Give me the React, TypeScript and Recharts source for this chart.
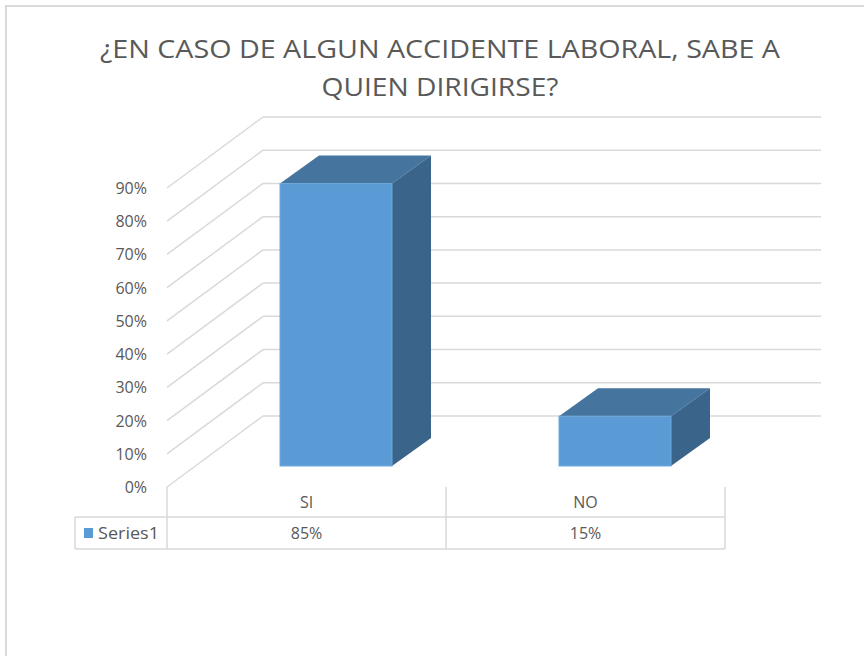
import React from 'react';
import { BarChart, Bar, XAxis, YAxis, CartesianGrid } from 'recharts';

const TITLE_LINES = ['¿EN CASO DE ALGUN ACCIDENTE LABORAL, SABE A', 'QUIEN DIRIGIRSE?'];
const categories = ['SI', 'NO'];
const series1 = [0.85, 0.15];
const seriesName = 'Series1';
const yTicks = [0, 0.1, 0.2, 0.3, 0.4, 0.5, 0.6, 0.7, 0.8, 0.9];

const data = categories.map((name, i) => ({ name, value: series1[i] }));

const FONT = '"Open Sans", "Noto Sans", sans-serif';
const TEXT = '#595959';
const GRID = '#D9D9D9';
const BLUE = '#5B9BD5';
const BLUE_TOP = '#45749F';
const BLUE_SIDE = '#3A6489';

// 3d projection of the walls / bars
const WALL_DX = 96;
const WALL_DY = -71;
const BAR_DX = 29;
const BAR_DY = -21;
const BAR_DEPTH_X = 39;
const BAR_DEPTH_Y = -28;
const LEGEND_W = 92;

const pct = (v: number) => `${Math.round(v * 100)}%`;

// back wall line + side wall diagonal for each y tick
const gridLine = (props: any) => {
  const { x1, y1, x2, key, index } = props;
  return (
    <g key={key ?? index}>
      <line x1={x1} y1={y1} x2={x1 + WALL_DX} y2={y1 + WALL_DY} stroke={GRID} strokeWidth={1.5} />
      <line x1={x1 + WALL_DX} y1={y1 + WALL_DY} x2={x2 + WALL_DX} y2={y1 + WALL_DY} stroke={GRID} strokeWidth={1.5} />
    </g>
  );
};

const Bar3D = (props: any) => {
  const { x, y, width, height } = props;
  const fx = x + BAR_DX;
  const fy = y + BAR_DY;
  const dx = BAR_DEPTH_X;
  const dy = BAR_DEPTH_Y;
  return (
    <g>
      <polygon
        points={`${fx},${fy} ${fx + dx},${fy + dy} ${fx + width + dx},${fy + dy} ${fx + width},${fy}`}
        fill={BLUE_TOP}
      />
      <polygon
        points={`${fx + width},${fy} ${fx + width + dx},${fy + dy} ${fx + width + dx},${fy + height + dy} ${fx + width},${fy + height}`}
        fill={BLUE_SIDE}
      />
      <rect x={fx} y={fy} width={width} height={height} fill={BLUE} stroke="#6FA8DC" strokeWidth={1} />
    </g>
  );
};

const YTick = (props: any) => {
  const { x, y, payload } = props;
  return (
    <text x={x - 20} y={y} dy={6} textAnchor="end" fill={TEXT} fontSize={16} fontFamily={FONT}>
      {pct(payload.value)}
    </text>
  );
};

// category label + data table cell under each category
const XTick = (props: any) => {
  const { x, y, payload, index } = props;
  const band = (props.width ?? 558) / categories.length;
  const left = x - band / 2;
  const right = x + band / 2;
  const rowTop = y + 30;
  const rowBottom = y + 62;
  return (
    <g>
      <text x={x} y={y + 21} textAnchor="middle" fill={TEXT} fontSize={16} fontFamily={FONT}>
        {payload.value}
      </text>
      <text x={x} y={y + 52} textAnchor="middle" fill={TEXT} fontSize={16} fontFamily={FONT}>
        {pct(series1[index])}
      </text>
      <line x1={left} y1={rowTop} x2={right} y2={rowTop} stroke={GRID} strokeWidth={1.5} />
      <line x1={left} y1={rowBottom} x2={right} y2={rowBottom} stroke={GRID} strokeWidth={1.5} />
      <line x1={right} y1={y} x2={right} y2={rowBottom} stroke={GRID} strokeWidth={1.5} />
      {index === 0 && (
        <g>
          <line x1={left} y1={y} x2={left} y2={rowBottom} stroke={GRID} strokeWidth={1.5} />
          <line x1={left - LEGEND_W} y1={rowTop} x2={left} y2={rowTop} stroke={GRID} strokeWidth={1.5} />
          <line x1={left - LEGEND_W} y1={rowBottom} x2={left} y2={rowBottom} stroke={GRID} strokeWidth={1.5} />
          <line x1={left - LEGEND_W} y1={rowTop} x2={left - LEGEND_W} y2={rowBottom} stroke={GRID} strokeWidth={1.5} />
          <rect x={left - LEGEND_W + 9} y={rowTop + 11} width={9} height={10} fill={BLUE} />
          <text
            x={left - LEGEND_W + 23}
            y={rowTop + 22}
            fill={TEXT}
            fontSize={17}
            fontFamily={FONT}
            textLength={61}
            lengthAdjust="spacingAndGlyphs"
          >
            {seriesName}
          </text>
        </g>
      )}
    </g>
  );
};

export default function App() {
  return (
    <div style={{ position: 'absolute', left: 0, top: 0, width: 864, height: 656, background: '#fff' }}>
      <div
        style={{
          position: 'absolute',
          left: 5,
          top: 5,
          right: 0,
          bottom: 0,
          borderLeft: `2px solid ${GRID}`,
          borderTop: `2px solid ${GRID}`,
        }}
      />
      <svg width={864} height={120} style={{ position: 'absolute', left: 0, top: 0 }}>
        <text x={440} y={58} textAnchor="middle" fill={TEXT} fontSize={25} fontFamily={FONT} textLength={680} lengthAdjust="spacingAndGlyphs">
          {TITLE_LINES[0]}
        </text>
        <text x={440} y={96} textAnchor="middle" fill={TEXT} fontSize={25} fontFamily={FONT} textLength={237} lengthAdjust="spacingAndGlyphs">
          {TITLE_LINES[1]}
        </text>
      </svg>
      <div style={{ position: 'absolute', left: 0, top: 0 }}>
        <BarChart width={864} height={656} data={data} margin={{ top: 188, right: 139, bottom: 0, left: 0 }} barSize={112}>
          <CartesianGrid vertical={false} horizontal={gridLine} syncWithTicks />
          <XAxis dataKey="name" axisLine={false} tickLine={false} tickSize={0} tickMargin={0} height={169} interval={0} tick={<XTick />} />
          <YAxis
            domain={[0, 0.9]}
            ticks={yTicks}
            axisLine={false}
            tickLine={false}
            tickSize={0}
            tickMargin={0}
            width={167}
            interval={0}
            tick={<YTick />}
          />
          <Bar dataKey="value" name={seriesName} fill={BLUE} shape={<Bar3D />} isAnimationActive={false} />
        </BarChart>
      </div>
    </div>
  );
}
